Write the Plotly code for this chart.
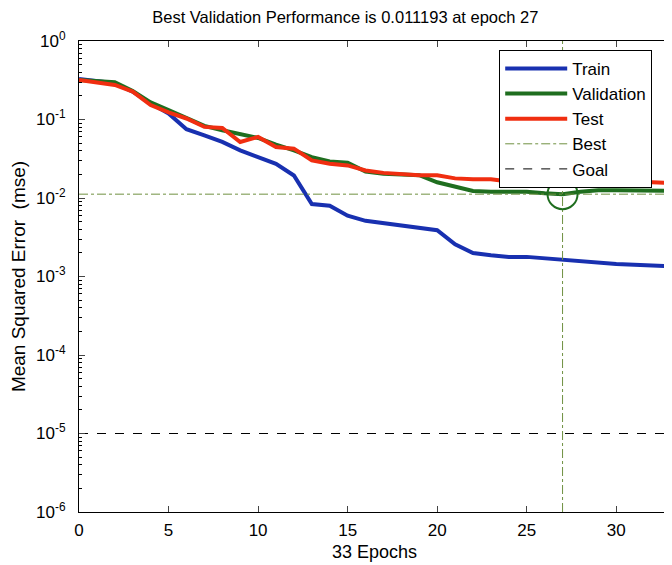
import plotly.graph_objects as go

epochs = list(range(0, 34))
train_log = [-0.483, -0.509, -0.538, -0.645, -0.795, -0.923, -1.124, -1.201, -1.286, -1.393,
             -1.479, -1.564, -1.714, -2.077, -2.098, -2.226, -2.291, -2.32, -2.35, -2.38,
             -2.41, -2.59, -2.70, -2.73, -2.75, -2.75, -2.77, -2.78, -2.80, -2.82,
             -2.84, -2.85, -2.86, -2.87]
valid_log = [-0.496, -0.509, -0.526, -0.637, -0.782, -0.880, -0.987, -1.081, -1.137, -1.18,
             -1.235, -1.321, -1.393, -1.479, -1.534, -1.551, -1.662, -1.69, -1.70, -1.71,
             -1.80, -1.86, -1.91, -1.92, -1.92, -1.92, -1.94, -1.951, -1.92, -1.90,
             -1.90, -1.90, -1.90, -1.91]
test_log = [-0.496, -0.526, -0.56, -0.645, -0.816, -0.91, -0.987, -1.094, -1.107, -1.286,
            -1.222, -1.35, -1.372, -1.521, -1.564, -1.585, -1.65, -1.68, -1.70, -1.71,
            -1.71, -1.75, -1.76, -1.76, -1.79, -1.80, -1.81, -1.82, -1.79, -1.78,
            -1.78, -1.79, -1.80, -1.81]
train = [10 ** v for v in train_log]
valid = [10 ** v for v in valid_log]
test = [10 ** v for v in test_log]

best_epoch = 27
best_perf = 0.011193
goal = 1e-5
x_range = [0, 33]
y_range_exp = [-6, 0]
tick_exps = [-6, -5, -4, -3, -2, -1, 0]
x_ticks = [0, 5, 10, 15, 20, 25, 30]
minor_vals = [m * 10 ** e for e in range(-6, 0) for m in range(2, 10)]

FONT = "Liberation Sans, Arial, sans-serif"
BLUE = "#1830b0"
GREEN = "#1f6e1f"
RED = "#f02e10"
BEST_C = "#6f9040"

fig = go.Figure()
fig.add_trace(go.Scatter(x=epochs, y=train, mode="lines", name="Train",
                         line=dict(color=BLUE, width=4)))
fig.add_trace(go.Scatter(x=epochs, y=valid, mode="lines", name="Validation",
                         line=dict(color=GREEN, width=4)))
fig.add_trace(go.Scatter(x=epochs, y=test, mode="lines", name="Test",
                         line=dict(color=RED, width=4)))
fig.add_trace(go.Scatter(x=x_range, y=[best_perf, best_perf], mode="lines", name="Best",
                         line=dict(color=BEST_C, width=1, dash="dashdot")))
fig.add_trace(go.Scatter(x=[best_epoch, best_epoch], y=[10 ** y_range_exp[0], 10 ** y_range_exp[1]],
                         mode="lines", showlegend=False,
                         line=dict(color=BEST_C, width=1, dash="dashdot")))
fig.add_trace(go.Scatter(x=x_range, y=[goal, goal], mode="lines", name="Goal",
                         line=dict(color="black", width=1, dash="dash")))
fig.add_trace(go.Scatter(x=[best_epoch], y=[best_perf], mode="markers", showlegend=False,
                         marker=dict(symbol="circle-open", size=30, color=GREEN,
                                     line=dict(width=2, color=GREEN))))

fig.update_layout(
    width=664, height=557,
    margin=dict(l=71, r=2, t=33, b=53, autoexpand=False),
    paper_bgcolor="white", plot_bgcolor="white",
    font=dict(family=FONT, color="black", size=17),
    title=dict(text="Best Validation Performance is 0.011193 at epoch 27",
               x=0.508, xanchor="center", y=0.984, yanchor="middle",
               font=dict(size=16.5, family=FONT)),
    legend=dict(x=0.711, xanchor="left", y=0.981, yanchor="top",
                bgcolor="white", bordercolor="black", borderwidth=1,
                itemwidth=62,
                font=dict(size=17, family=FONT), tracegroupgap=0),
    showlegend=True,
)
fig.update_xaxes(range=x_range, tickvals=x_ticks, ticks="inside", ticklen=6,
                 showline=True, linecolor="black", linewidth=1, mirror="ticks",
                 showgrid=False, zeroline=False, automargin=False,
                 ticklabelstandoff=3,
                 tickfont=dict(size=17, family=FONT),
                 title=dict(text="33 Epochs", font=dict(size=18, family=FONT), standoff=5))
fig.update_yaxes(type="log", range=y_range_exp,
                 tickvals=[10 ** e for e in tick_exps],
                 ticktext=["10<sup>%d</sup>" % e for e in tick_exps],
                 ticks="inside", ticklen=6,
                 minor=dict(ticks="inside", ticklen=3, tickcolor="black", tickvals=minor_vals),
                 showline=True, linecolor="black", linewidth=1, mirror="ticks",
                 showgrid=False, zeroline=False, automargin=False,
                 ticklabelstandoff=9,
                 tickfont=dict(size=17, family=FONT),
                 title=dict(text="Mean Squared Error  (mse)", font=dict(size=19, family=FONT), standoff=6))

fig.write_html("out.html")
